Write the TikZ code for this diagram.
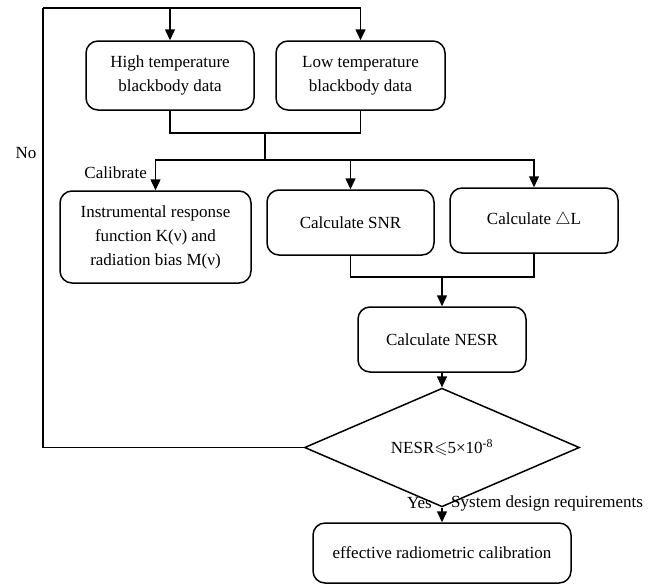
\documentclass[tikz,border=0pt]{standalone}
\usepackage{amsmath,amssymb}
\usepackage{tikz}
\usetikzlibrary{arrows.meta,positioning,calc,shapes.geometric}
\usepackage{fontspec}
\setmainfont{Liberation Serif}
\newfontfamily\figfont{Liberation Serif}

\tikzset{
    box/.style={draw, line width=1.5pt, rounded corners=12pt, align=center, inner sep=0pt},
    decision/.style={draw, diamond, line width=1.5pt, inner sep=0pt},
    arr/.style={line width=1.5pt, -{Triangle[length=11pt,width=10pt]}},
    link/.style={line width=1.5pt}
}

\begin{document}
\begin{tikzpicture}[x=1pt, y=-1pt, font=\figfont\fontsize{17}{24}\selectfont]
    \useasboundingbox (0, 0) rectangle (660, 587);

    % Blackbody data
    \node[box, minimum width=168pt, minimum height=69pt] (high) at (170, 75.5) {High temperature\\blackbody data};
    \node[box, minimum width=169pt, minimum height=69pt] (low) at (360.5, 75.5) {Low temperature\\blackbody data};

    % Second row
    \node[box, minimum width=191pt, minimum height=92pt] (inst) at (155.5, 237) {Instrumental response\\function K(ν) and\\radiation bias M(ν)};
    \node[box, minimum width=167pt, minimum height=65pt] (snr) at (350.5, 222.5) {Calculate SNR};
    \node[box, minimum width=168pt, minimum height=65pt] (dl) at (534, 220.5) {Calculate $\triangle$L};

    % NESR and check
    \node[box, minimum width=168pt, minimum height=65pt] (nesr) at (442, 339.5) {Calculate NESR};
    \node[decision, minimum width=275pt, minimum height=91pt] (check) at (442, 447.5) {NESR$\leqslant$5×10\textsuperscript{-8}};
    \node[box, minimum width=258pt, minimum height=60pt] (final) at (442, 553) {effective radiometric calibration};

    % Junction points
    \coordinate (tl) at (43, 8);
    \coordinate (m1) at (265, 133);
    \coordinate (b1) at (265, 160);
    \coordinate (m2) at (442, 277);

    % Feedback loop
    \draw[link] (check.west) -| (tl);
    \draw[arr] (tl) -| (low.north);
    \draw[arr] (high.north |- tl) -- (high.north);

    % Merge and branch
    \draw[link] (high.south) |- (m1) -| (low.south);
    \draw[link] (m1) -- (b1);
    \draw[arr] (b1) -| (inst.north);
    \draw[arr] (b1) -| (snr.north);
    \draw[arr] (b1) -| (dl.north);

    \draw[link] (snr.south) |- (m2) -| (dl.south);
    \draw[arr] (m2) -- (nesr.north);
    \draw[arr] (nesr) -- (check);
    \draw[arr] (check) -- (final);

    % Labels
    \node[anchor=east, inner sep=0pt] (cal) at (147, 173) {Calibrate};
    \node (no) at (26, 153) {No};
    \node[anchor=east, inner sep=0pt] (yes) at (432, 503) {Yes};
    \node[anchor=west, inner sep=0pt] (req) at (451, 503) {System design requirements};
\end{tikzpicture}
\end{document}
